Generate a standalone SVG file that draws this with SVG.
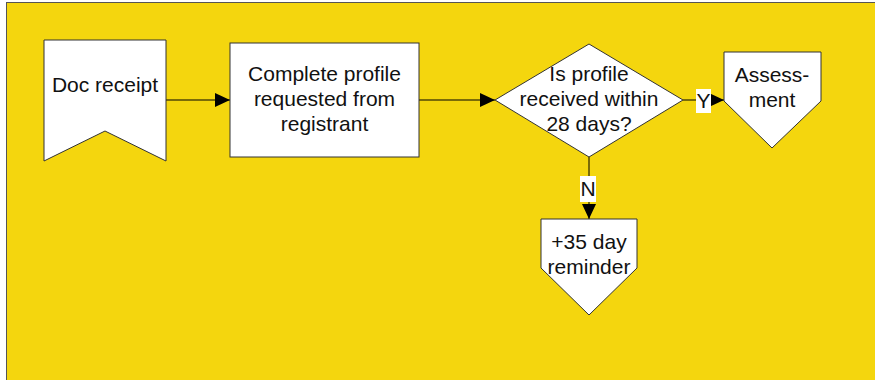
<svg xmlns="http://www.w3.org/2000/svg" width="875" height="380" viewBox="0 0 875 380">
<style>
.shape{fill:#fff;stroke:#333;stroke-width:1}
.t{font-family:"Liberation Sans",Arial,sans-serif;font-size:21px;fill:#111;text-anchor:middle}
.c{fill:none;stroke:#000;stroke-width:1}
.lbl{fill:#fff}
</style>
<defs>
<marker id="ah" markerUnits="userSpaceOnUse" markerWidth="16" markerHeight="14" refX="15" refY="7" orient="auto">
<path d="M0,0 L15,7 L0,14 Z" fill="#000"/>
</marker>
</defs>
<rect x="6.5" y="2.5" width="880" height="390" fill="#F4D60E" stroke="#555" stroke-width="1"/>
<g id="connectors">
<path class="c" d="M166,100 L230,100" marker-end="url(#ah)"/>
<path class="c" d="M419,100 L495,100" marker-end="url(#ah)"/>
<path class="c" d="M683,100 L724,100" marker-end="url(#ah)"/>
<path class="c" d="M589,157 L589,219" marker-end="url(#ah)"/>
<rect class="lbl" x="696" y="89" width="15" height="24"/>
<text class="t" x="703.5" y="108">Y</text>
<rect class="lbl" x="580" y="176" width="16" height="26"/>
<text class="t" x="588" y="196">N</text>
</g>
<g id="doc-receipt">
<path class="shape" d="M44,40 L166,40 L166,161 L105,131 L44,161 Z"/>
<text class="t" x="105" y="92">Doc receipt</text>
</g>
<g id="complete-profile">
<rect class="shape" x="230" y="43" width="189" height="114"/>
<text class="t" x="324.5" y="81">Complete profile</text>
<text class="t" x="324.5" y="106">requested from</text>
<text class="t" x="324.5" y="131">registrant</text>
</g>
<g id="decision">
<path class="shape" d="M589,44 L683,100 L589,157 L495,100 Z"/>
<text class="t" x="589" y="81">Is profile</text>
<text class="t" x="589" y="106">received within</text>
<text class="t" x="589" y="131">28 days?</text>
</g>
<g id="assessment">
<path class="shape" d="M724,52 L821,52 L821,101 L772,148 L724,101 Z"/>
<text class="t" x="772" y="82">Assess-</text>
<text class="t" x="772" y="107">ment</text>
</g>
<g id="reminder">
<path class="shape" d="M541,219 L637,219 L637,268 L589,315 L541,268 Z"/>
<text class="t" x="589" y="249">+35 day</text>
<text class="t" x="589" y="274">reminder</text>
</g>
</svg>
